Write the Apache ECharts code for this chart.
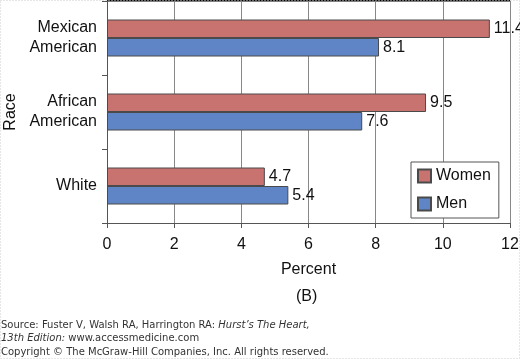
<!DOCTYPE html>
<html><head><meta charset="utf-8">
<script src="https://cdn.jsdelivr.net/npm/echarts@6/dist/echarts.min.js"></script>
<style>html,body{margin:0;padding:0;background:#fff}#c{width:520px;height:359px}</style>
</head><body><div id="c"></div>
<script>
var categories = ['Mexican\nAmerican', 'African\nAmerican', 'White'];
var women = [11.4, 9.5, 4.7];
var men = [8.1, 7.6, 5.4];
var xTicks = [0, 2, 4, 6, 8, 10, 12];
var seriesNames = ['Women', 'Men'];

var chart = echarts.init(document.getElementById('c'), null, {renderer: 'canvas'});
var F = '"Liberation Sans", Arial, Helvetica, sans-serif';
var V = '"DejaVu Sans", Verdana, sans-serif';
var barLabel = {show: true, position: 'right', distance: 4, color: '#111', fontFamily: F, fontSize: 16,
  formatter: function (p) { return p.value.toFixed(1); }};
chart.setOption({
  animation: false,
  grid: {left: 107, right: 10, top: 1, bottom: 136, containLabel: false, outerBoundsMode: 'none'},
  legend: {
    data: seriesNames, orient: 'vertical', left: 411, top: 162,
    itemWidth: 13, itemHeight: 13, itemGap: 12, padding: [6, 8, 6, 6],
    borderColor: '#555', borderWidth: 1, backgroundColor: '#fff',
    icon: 'rect', textStyle: {fontFamily: F, fontSize: 16, color: '#111'}
  },
  xAxis: {
    type: 'value', min: xTicks[0], max: xTicks[xTicks.length - 1], interval: 2,
    name: 'Percent', nameLocation: 'middle', nameGap: 39,
    nameTextStyle: {fontFamily: F, fontSize: 16, color: '#111'},
    axisLine: {show: true, lineStyle: {color: '#555', width: 1}},
    axisTick: {show: true, length: 5, lineStyle: {color: '#555'}},
    axisLabel: {fontFamily: F, fontSize: 16, color: '#111', margin: 14},
    splitLine: {show: true, lineStyle: {color: '#888', width: 1}}
  },
  yAxis: {
    type: 'category', data: categories, inverse: true,
    name: 'Race', nameLocation: 'middle', nameGap: 86,
    nameTextStyle: {fontFamily: F, fontSize: 16, color: '#111'},
    axisLine: {show: true, lineStyle: {color: '#555', width: 1}},
    axisTick: {show: true, length: 5, lineStyle: {color: '#555'}},
    axisLabel: {fontFamily: F, fontSize: 16, color: '#111', margin: 10, lineHeight: 20, align: 'right'}
  },
  series: [
    {name: seriesNames[0], type: 'bar', data: women, barGap: '0%', barCategoryGap: '50%',
     itemStyle: {color: '#c87370', borderColor: '#4a4a4a', borderWidth: 1}, label: barLabel},
    {name: seriesNames[1], type: 'bar', data: men,
     itemStyle: {color: '#5f85c6', borderColor: '#4a4a4a', borderWidth: 1}, label: barLabel}
  ],
  graphic: [
    {type: 'line', shape: {x1: 107, y1: 0.5, x2: 510, y2: 0.5}, style: {stroke: '#000', lineWidth: 2}},
    {type: 'text', left: 296, top: 289, style: {text: '(B)', font: '16px ' + F, fill: '#111'}},
    {type: 'text', left: 1, top: 320, style: {
      text: '{n|Source: Fuster V, Walsh RA, Harrington RA: }{i|Hurst\u2019s The Heart,}\n{i|13th Edition:}{n| www.accessmedicine.com}',
      rich: {n: {font: '10px ' + V, fill: '#333', lineHeight: 13}, i: {font: 'italic 10px ' + V, fill: '#333', lineHeight: 13}}
    }},
    {type: 'text', left: 1, top: 347, style: {text: 'Copyright \u00a9 The McGraw-Hill Companies, Inc. All rights reserved.', font: '10px ' + V, fill: '#333'}},
    {type: 'rect', shape: {x: 0.5, y: 0.5, width: 519, height: 358}, style: {fill: 'none', stroke: '#ccc', lineDash: [1, 2]}, silent: true}
  ]
});
</script></body></html>
